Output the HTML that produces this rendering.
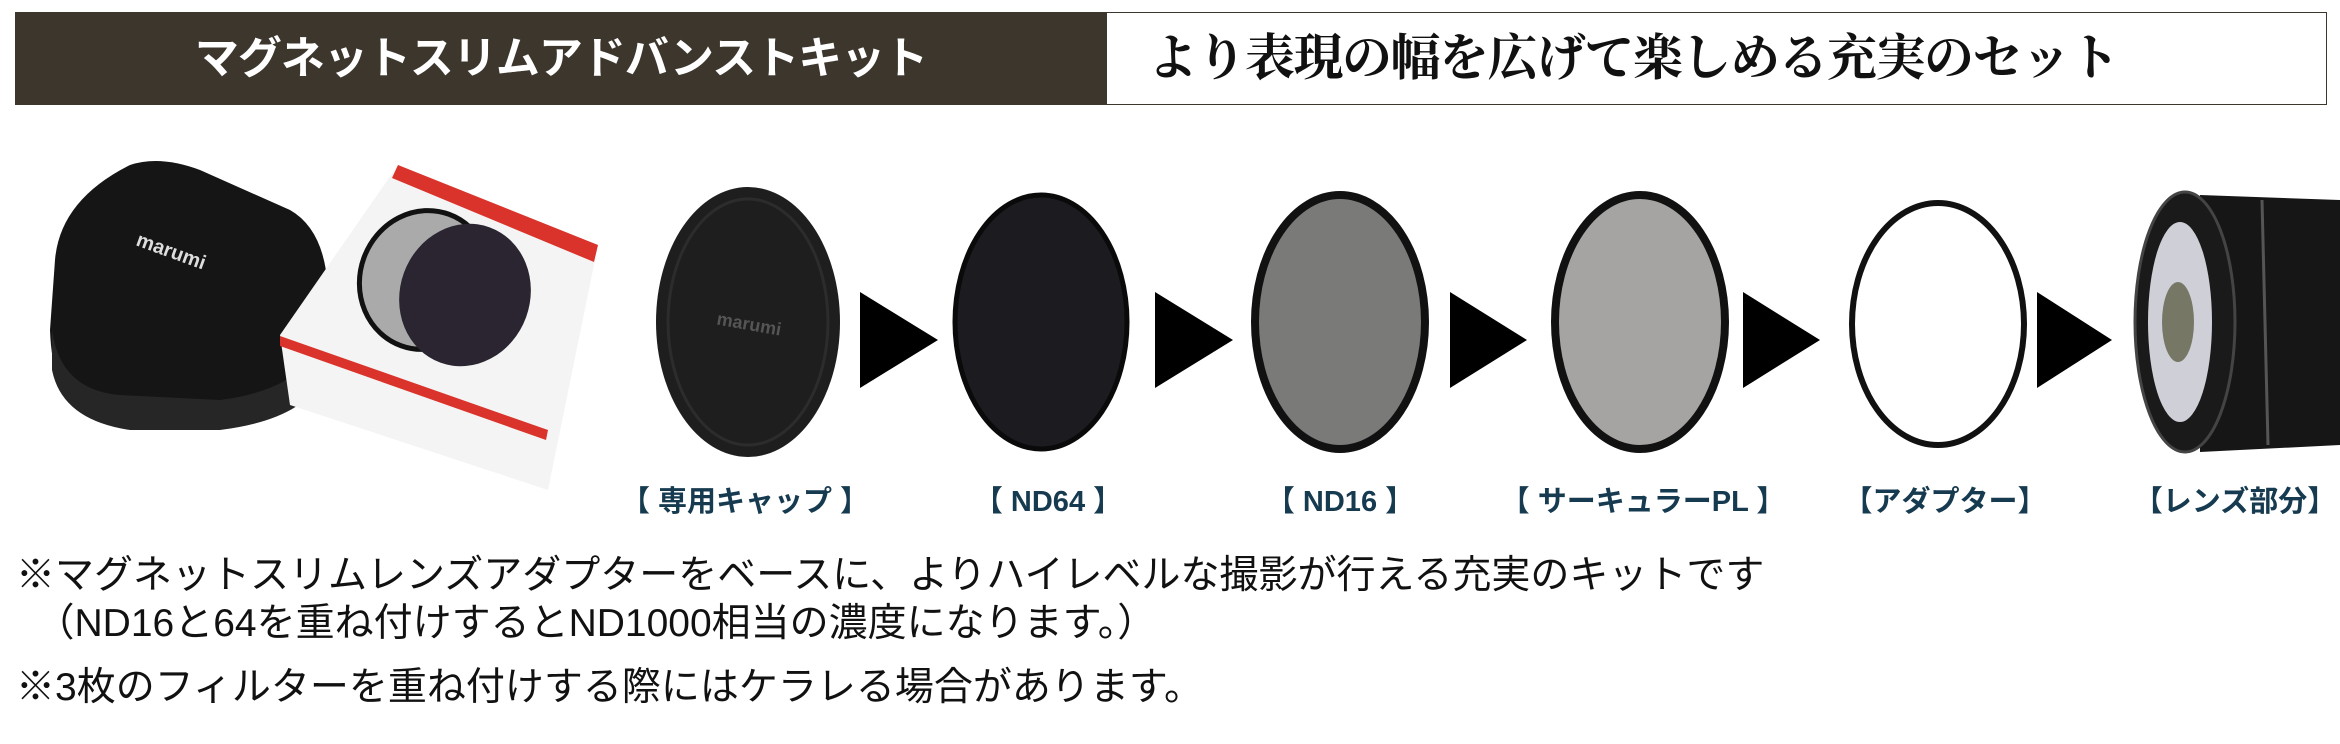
<!DOCTYPE html>
<html><head><meta charset="utf-8"><style>
body{margin:0;width:2340px;height:744px;background:#fff;position:relative;overflow:hidden;font-family:"Liberation Sans","Noto Sans CJK JP",sans-serif}
.a{position:absolute;white-space:nowrap}
.lab{position:absolute;top:478px;font-size:29px;color:#163a4f;font-weight:bold;white-space:nowrap;transform:translateX(-50%)}
.note{position:absolute;left:16px;font-size:39px;color:#111;white-space:nowrap}
</style></head><body>
<div class="a" style="left:15px;top:12px;width:1092px;height:93px;background:#3c362d"></div>
<div class="a" style="left:1107px;top:12px;width:1219px;height:91px;border:1px solid #3c362d;border-left:none;background:#fff"></div>
<div class="a" style="left:15px;top:12px;width:1092px;height:93px;line-height:93px;text-align:center;color:#fff;font-size:44px;font-weight:bold;letter-spacing:-1px">マグネットスリムアドバンストキット</div>
<div class="a" style="left:1148px;top:12px;height:93px;line-height:93px;color:#111;font-size:50px;font-family:'Liberation Serif','Noto Serif CJK SC',serif;font-weight:bold;letter-spacing:-1.5px">より表現の幅を広げて楽しめる充実のセット</div>
<svg class="a" style="left:0;top:0" width="2340" height="744">
<!-- pouch -->
<path d="M55 260 Q60 200 130 165 Q160 155 200 170 L290 210 Q325 230 328 290 L325 360 Q320 395 290 405 L200 425 Q120 432 80 410 Q52 390 50 330 Z" fill="#151515"/>
<path d="M52 330 Q60 390 120 395 L220 400 Q300 390 325 340 L322 380 Q300 420 220 430 L130 430 Q62 420 52 370Z" fill="#262626"/>
<text x="135" y="245" fill="#ddd" font-size="20" font-weight="bold" transform="rotate(20 135 245)">marumi</text>
<!-- box -->
<path d="M280 335 L398 165 L598 245 L548 490 L290 405 Z" fill="#f4f4f4"/>
<path d="M398 165 L598 245 L594 262 L392 178Z" fill="#d9332b"/>
<path d="M280 336 L548 430 L546 440 L280 346Z" fill="#d9332b"/>
<ellipse cx="425" cy="280" rx="65" ry="70" fill="#aaa" stroke="#111" stroke-width="5" transform="rotate(20 425 280)"/>
<ellipse cx="465" cy="295" rx="65" ry="72" fill="#2a2530" transform="rotate(20 465 295)"/>
<!-- cap -->
<ellipse cx="748" cy="322" rx="92" ry="135" fill="#1e1e1e"/>
<ellipse cx="748" cy="322" rx="80" ry="123" fill="none" stroke="#2c2c2c" stroke-width="3"/>
<text x="748" y="330" fill="#555" font-size="18" font-weight="bold" text-anchor="middle" transform="rotate(10 748 330)">marumi</text>
<!-- ND64 -->
<ellipse cx="1041" cy="322" rx="86" ry="127" fill="#1c1b20" stroke="#0a0a0a" stroke-width="5"/>
<!-- ND16 -->
<ellipse cx="1340" cy="322" rx="85" ry="127" fill="#7a7a78" stroke="#111" stroke-width="8"/>
<!-- CPL -->
<ellipse cx="1640" cy="322" rx="85" ry="127" fill="#a5a4a2" stroke="#111" stroke-width="8"/>
<!-- adapter -->
<ellipse cx="1938" cy="324" rx="86" ry="121" fill="#fff" stroke="#111" stroke-width="6"/>
<!-- arrows -->
<polygon points="860,292 938,340 860,388" fill="#000"/>
<polygon points="1155,292 1233,340 1155,388" fill="#000"/>
<polygon points="1450,292 1527,340 1450,388" fill="#000"/>
<polygon points="1743,292 1820,340 1743,388" fill="#000"/>
<polygon points="2037,292 2112,340 2037,388" fill="#000"/>
<!-- lens -->
<path d="M2200 195 L2340 200 L2340 445 L2200 452 Z" fill="#161616"/>
<ellipse cx="2185" cy="322" rx="50" ry="130" fill="#1a1a1a" stroke="#444" stroke-width="3"/>
<ellipse cx="2180" cy="322" rx="32" ry="100" fill="#cfcfd8"/>
<ellipse cx="2178" cy="322" rx="16" ry="40" fill="#776"/>
<line x1="2262" y1="200" x2="2268" y2="445" stroke="#555" stroke-width="3"/>
</svg>
<div class="lab" style="left:745px">【 専用キャップ 】</div>
<div class="lab" style="left:1048px">【 ND64 】</div>
<div class="lab" style="left:1340px">【 ND16 】</div>
<div class="lab" style="left:1643px">【 サーキュラーPL 】</div>
<div class="lab" style="left:1945px">【アダプター】</div>
<div class="lab" style="left:2235px">【レンズ部分】</div>
<div class="note" style="top:544px">※マグネットスリムレンズアダプターをベースに、よりハイレベルな撮影が行える充実のキットです</div>
<div class="note" style="top:592px">　（ND16と64を重ね付けするとND1000相当の濃度になります。）</div>
<div class="note" style="top:656px">※3枚のフィルターを重ね付けする際にはケラレる場合があります。</div>
</body></html>
